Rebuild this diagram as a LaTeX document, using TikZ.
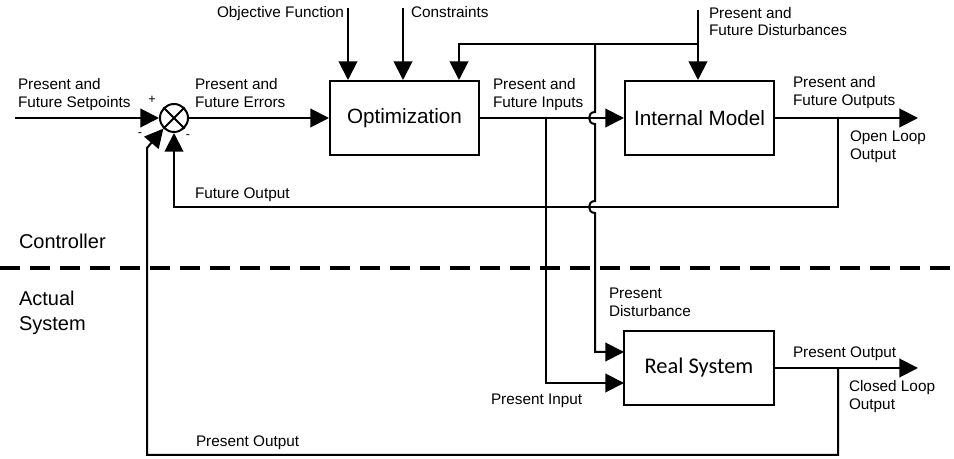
\documentclass[tikz,border=0pt]{standalone}
\usepackage{fontspec}
\setmainfont{Liberation Sans}
\newfontfamily\calib{Carlito}
\usetikzlibrary{arrows.meta}
\begin{document}
\begin{tikzpicture}[x=0.75pt,y=-0.75pt,line width=1.5pt,
  arr/.style={-{Triangle[length=14pt,width=14pt]}},
  blk/.style={draw,minimum width=111.75pt,minimum height=55.5pt,inner sep=0pt},
  lbl/.style={font=\fontsize{11.5}{13}\selectfont,inner sep=0pt,anchor=base west},
  big/.style={font=\fontsize{15}{17}\selectfont,inner sep=0pt,anchor=base west},
  sgn/.style={font=\fontsize{9.5}{10}\selectfont,inner sep=0pt}]
\useasboundingbox (0,0) rectangle (954,459);

% blocks
\node[blk,font=\fontsize{15.5}{18}\selectfont] (opt) at (404.5,118) {Optimization};
\node[blk,font=\fontsize{15.5}{18}\selectfont] (im) at (699.5,118) {Internal Model};
\node[blk,minimum width=112.5pt,font=\calib\fontsize{16.8}{20}\selectfont] (rs) at (699,368) {Real System};
\node[draw,circle,minimum size=21pt,inner sep=0pt] (sum) at (174,118) {};
\draw (sum.north west) -- (sum.south east) (sum.north east) -- (sum.south west);

% coordinates
\coordinate (spin) at (15,118);
\coordinate (objtop) at (348,8);
\coordinate (contop) at (403,8);
\coordinate (dtop) at (698,10);
\coordinate (dj) at (698,44);
\coordinate (dl) at (459,44);
\coordinate (dv) at (595,44);
\coordinate (h1a) at (595,112);
\coordinate (h1b) at (595,124);
\coordinate (h2a) at (595,201);
\coordinate (h2b) at (595,213);
\coordinate (dvb) at (595,352);
\coordinate (rsd) at (624,352);
\coordinate (itap) at (546,118);
\coordinate (itb) at (546,383);
\coordinate (rsi) at (624,383);
\coordinate (otap) at (838,118);
\coordinate (oend) at (918,118);
\coordinate (ctap) at (838,368);
\coordinate (cend) at (918,368);
\coordinate (fo) at (838,207);
\coordinate (fol) at (174,207);
\coordinate (po) at (838,455);
\coordinate (pol) at (147,455);
\coordinate (pou) at (147,148);

% connectors
\draw[arr] (spin) -- (sum.west);
\draw[arr] (sum.east) -- (opt.west);
\draw[arr] (objtop) -- (objtop |- opt.north);
\draw[arr] (contop) -- (contop |- opt.north);
\draw[arr] (dtop) -- (dtop |- im.north);
\draw[arr] (dj) -- (dl) -- (dl |- opt.north);
\draw[arr] (opt.east) -- (im.west);
\draw[arr] (im.east) -- (oend);
\draw[arr] (otap) -- (fo) -- (fol) -- (sum.south);
\draw[arr] (dv) -- (h1a) .. controls (587,112) and (587,124) .. (h1b) -- (h2a)
   .. controls (587,201) and (587,213) .. (h2b) -- (dvb) -- (rsd);
\draw[arr] (itap) -- (itb) -- (rsi);
\draw[arr] (rs.east) -- (cend);
\draw[arr] (ctap) -- (po) -- (pol) -- (pou) -- (sum.south west);

% separator
\draw[line width=3pt,dash pattern=on 15pt off 7.5pt] (0,268) -- (954,268);

% signs
\node[sgn] (sp) at (152,100) {+};
\node[sgn] (sm1) at (140,135) {-};
\node[sgn] (sm2) at (188,137) {-};

% labels
\node[lbl] (l1a) at (17,90) {Present and};
\node[lbl] (l1b) at (17,108) {Future Setpoints};
\node[lbl] (l2a) at (194,90) {Present and};
\node[lbl] (l2b) at (194,108) {Future Errors};
\node[lbl,anchor=base east] (l3) at (345,18) {Objective Function};
\node[lbl] (l4) at (410,18) {Constraints};
\node[lbl] (l5a) at (708,18.5) {Present and};
\node[lbl] (l5b) at (708,36) {Future Disturbances};
\node[lbl] (l6a) at (492,90) {Present and};
\node[lbl] (l6b) at (492,108) {Future Inputs};
\node[lbl] (l7a) at (792,88) {Present and};
\node[lbl] (l7b) at (792,106) {Future Outputs};
\node[lbl] (l8a) at (849,142) {Open Loop};
\node[lbl] (l8b) at (849,159.5) {Output};
\node[lbl] (l9) at (194,199) {Future Output};
\node[lbl] (l10a) at (608,299) {Present};
\node[lbl] (l10b) at (608,317) {Disturbance};
\node[lbl] (l11) at (490,405) {Present Input};
\node[lbl] (l12) at (792,358) {Present Output};
\node[lbl] (l13a) at (848,392) {Closed Loop};
\node[lbl] (l13b) at (848,409.5) {Output};
\node[lbl] (l14) at (195,447) {Present Output};
\node[big] (c1) at (18,249) {Controller};
\node[big] (c2a) at (18,306) {Actual};
\node[big] (c2b) at (18,331) {System};
\end{tikzpicture}
\end{document}
